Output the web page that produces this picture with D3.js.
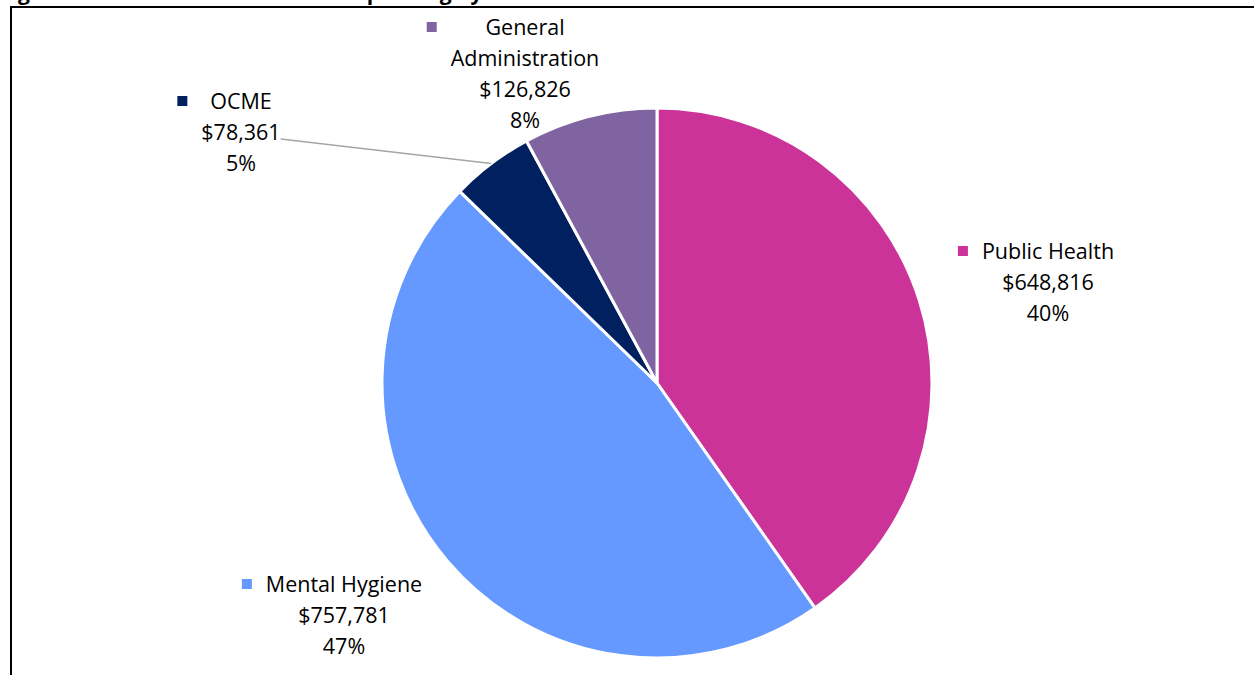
<!DOCTYPE html>
<html>
<head>
<meta charset="utf-8">
<script src="https://cdn.jsdelivr.net/npm/d3@7/dist/d3.min.js"></script>
<style>
  html, body { margin: 0; padding: 0; background: #fff; }
  svg { display: block; }
  text { font-family: "Open Sans", "Liberation Sans", sans-serif; }
</style>
</head>
<body>
<svg id="chart" width="1254" height="675"></svg>
<script>
// ---- data ----
const categories = ["Public Health", "Mental Hygiene", "OCME", "General Administration"];
const values = [648816, 757781, 78361, 126826];
const colors = ["#CC3399", "#6699FF", "#002060", "#8064A2"];
const titleText = "Figure 1: DOHMH and OCME Total Spending by Unit";

// ---- layout ----
const W = 1254, H = 675;
const cx = 657, cy = 383, R = 275;
// label block anchors (center x, first line y)
const labelPos = [
  {x: 1048, y: 251, lines: ["Public Health"]},
  {x: 344, y: 584, lines: ["Mental Hygiene"]},
  {x: 241, y: 101, lines: ["OCME"]},
  {x: 525, y: 27, lines: ["General", "Administration"]}
];
const lineH = 31;
const fontSize = 21.5;

const svg = d3.select("#chart");

// title (cut off at top, as in the reference)
svg.append("text")
  .attr("x", 0).attr("y", 0)
  .attr("font-family", "Liberation Sans, Arial, sans-serif")
  .attr("font-weight", "bold")
  .attr("font-size", 21)
  .attr("fill", "#000")
  .text(titleText);

// frame
svg.append("rect")
  .attr("x", 11).attr("y", 7)
  .attr("width", 1400).attr("height", 800)
  .attr("fill", "none")
  .attr("stroke", "#000")
  .attr("stroke-width", 2);

const total = d3.sum(values);
const data = categories.map((c, i) => ({cat: c, value: values[i], color: colors[i], idx: i}));

const pie = d3.pie().value(d => d.value).sort(null);
const arcs = pie(data);
const arc = d3.arc().innerRadius(0).outerRadius(R);

const g = svg.append("g").attr("transform", `translate(${cx},${cy})`);
g.selectAll("path.slice")
  .data(arcs)
  .enter().append("path")
  .attr("class", "slice")
  .attr("d", arc)
  .attr("fill", d => d.data.color)
  .attr("stroke", "#fff")
  .attr("stroke-width", 3)
  .attr("stroke-linejoin", "round");

const fmt = d3.format("$,");
const pct = d3.format(".0%");

// labels
arcs.forEach((a, i) => {
  const lp = labelPos[i];
  const lines = lp.lines.concat([fmt(a.data.value), pct(a.data.value / total)]);
  const lg = svg.append("g");
  let maxW = 0;
  lines.forEach((ln, k) => {
    const t = lg.append("text")
      .attr("x", lp.x)
      .attr("y", lp.y + k * lineH)
      .attr("dy", "0.35em")
      .attr("text-anchor", "middle")
      .attr("font-size", fontSize)
      .attr("fill", "#000")
      .text(ln);
    maxW = Math.max(maxW, t.node().getComputedTextLength());
  });
  lg.append("rect")
    .attr("x", lp.x - maxW / 2 - 14 - 10)
    .attr("y", lp.y - 5)
    .attr("width", 10).attr("height", 10)
    .attr("fill", a.data.color);

  // leader line for the small slice (OCME)
  if (a.data.cat === "OCME") {
    const mid = (a.startAngle + a.endAngle) / 2;
    const ex = cx + R * Math.sin(mid);
    const ey = cy - R * Math.cos(mid);
    const sx = lp.x + maxW / 2;
    const sy = lp.y + 38;
    svg.append("line")
      .attr("x1", sx).attr("y1", sy)
      .attr("x2", ex).attr("y2", ey)
      .attr("stroke", "#A6A6A6")
      .attr("stroke-width", 1.5);
  }
});
</script>
</body>
</html>
